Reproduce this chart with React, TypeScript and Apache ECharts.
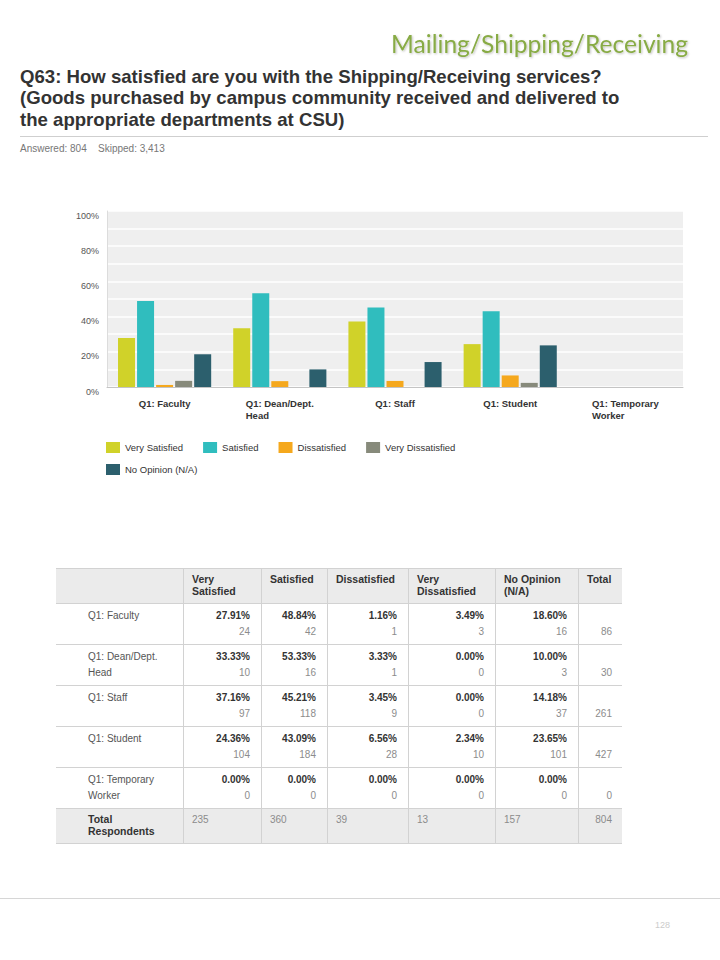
import React, { useEffect, useRef } from "react";
import * as echarts from "echarts";

// ---- data ----
const categories = ["Q1: Faculty", "Q1: Dean/Dept.\nHead", "Q1: Staff", "Q1: Student", "Q1: Temporary\nWorker"];
const seriesNames = ["Very Satisfied", "Satisfied", "Dissatisfied", "Very Dissatisfied", "No Opinion (N/A)"];
const verySatisfied = [27.91, 33.33, 37.16, 24.36, 0];
const satisfied = [48.84, 53.33, 45.21, 43.09, 0];
const dissatisfied = [1.16, 3.33, 3.45, 6.56, 0];
const veryDissatisfied = [3.49, 0, 0, 2.34, 0];
const noOpinion = [18.6, 10.0, 14.18, 23.65, 0];

const verySatisfiedCounts = [24, 10, 97, 104, 0];
const satisfiedCounts = [42, 16, 118, 184, 0];
const dissatisfiedCounts = [1, 1, 9, 28, 0];
const veryDissatisfiedCounts = [3, 0, 0, 10, 0];
const noOpinionCounts = [16, 3, 37, 101, 0];
const rowTotals = [86, 30, 261, 427, 0];
const columnTotals = [235, 360, 39, 13, 157, 804];

const tableHeaders = ["Very\nSatisfied", "Satisfied", "Dissatisfied", "Very\nDissatisfied", "No Opinion\n(N/A)", "Total"];
const yTickValues = [0, 20, 40, 60, 80, 100];

const colors = ["#d0d229", "#30bdbe", "#f5a81d", "#878a7b", "#2c5f6d"];

const FONT = "'Liberation Sans', Arial, sans-serif";

function buildTable(): any[] {
  const els: any[] = [];
  const cols = [56, 183, 261, 327, 408, 495, 578, 622];
  const tableTop = 568;
  const headerH = 35;
  const rowH = 41;
  const totalTop = tableTop + headerH + rowH * categories.length;
  const totalH = 35;
  const bottom = totalTop + totalH;
  const left = cols[0];
  const right = cols[cols.length - 1];
  els.push({ type: "rect", shape: { x: left, y: tableTop, width: right - left, height: headerH }, style: { fill: "#ebebeb" }, silent: true });
  els.push({ type: "rect", shape: { x: left, y: totalTop, width: right - left, height: totalH }, style: { fill: "#ebebeb" }, silent: true });
  const hLines = [tableTop, tableTop + headerH];
  for (let i = 1; i <= categories.length; i++) hLines.push(tableTop + headerH + rowH * i);
  hLines.push(bottom);
  hLines.forEach((y) =>
    els.push({ type: "line", shape: { x1: left, y1: y + 0.5, x2: right, y2: y + 0.5 }, style: { stroke: "#d2d2d2", lineWidth: 1 }, silent: true })
  );
  for (let j = 1; j < cols.length - 1; j++) {
    els.push({ type: "line", shape: { x1: cols[j] + 0.5, y1: tableTop, x2: cols[j] + 0.5, y2: bottom }, style: { stroke: "#d2d2d2", lineWidth: 1 }, silent: true });
  }
  const txt = (text: string, x: number, y: number, opts: any) => ({
    type: "text",
    silent: true,
    style: Object.assign({ text, x, y, fontFamily: FONT, fontSize: 10, fill: "#333", align: "left", verticalAlign: "middle" }, opts),
  });
  tableHeaders.forEach((h, j) => {
    els.push(txt(h, cols[j + 1] + 9, tableTop + 5, { fontWeight: "bold", verticalAlign: "top", lineHeight: 12, fontSize: 10.5 }));
  });
  const pcts = [verySatisfied, satisfied, dissatisfied, veryDissatisfied, noOpinion];
  const counts = [verySatisfiedCounts, satisfiedCounts, dissatisfiedCounts, veryDissatisfiedCounts, noOpinionCounts];
  categories.forEach((c, i) => {
    const top = tableTop + headerH + rowH * i;
    els.push(txt(c, 88, top + 4, { verticalAlign: "top", lineHeight: 16, fill: "#555" }));
    pcts.forEach((arr, j) => {
      const xr = cols[j + 2] - 11;
      els.push(txt(arr[i].toFixed(2) + "%", xr, top + 12, { align: "right", fontWeight: "bold" }));
      els.push(txt(String(counts[j][i]), xr, top + 28, { align: "right", fill: "#8c8c8c" }));
    });
    els.push(txt(String(rowTotals[i]), right - 10, top + 28, { align: "right", fill: "#8c8c8c" }));
  });
  els.push(txt("Total\nRespondents", 88, totalTop + 5, { verticalAlign: "top", lineHeight: 12, fontWeight: "bold", fontSize: 10.5 }));
  columnTotals.forEach((v, j) => {
    if (j < columnTotals.length - 1) {
      els.push(txt(String(v), cols[j + 1] + 9, totalTop + 11, { fill: "#8c8c8c" }));
    } else {
      els.push(txt(String(v), right - 10, totalTop + 11, { align: "right", fill: "#8c8c8c" }));
    }
  });
  return els;
}

export default function App() {
  const ref = useRef<HTMLDivElement>(null);
  useEffect(() => {
    if (!ref.current) return;
    const chart = echarts.init(ref.current, null, { renderer: "svg" });
    const seriesData = [verySatisfied, satisfied, dissatisfied, veryDissatisfied, noOpinion];
    const legendBase = {
      left: 106,
      padding: 0,
      icon: "rect",
      itemWidth: 14,
      itemHeight: 11,
      itemGap: 20,
      selectedMode: false,
      textStyle: { fontSize: 9.5, color: "#333", fontFamily: FONT },
    };
    const option: any = {
      animation: false,
      backgroundColor: "#ffffff",
      textStyle: { fontFamily: FONT },
      grid: { left: 107, top: 211, width: 576, height: 176, show: true, backgroundColor: "#efefef", borderWidth: 0 },
      legend: [
        Object.assign({ data: seriesNames.slice(0, 4), top: 442 }, legendBase),
        Object.assign({ data: seriesNames.slice(4), top: 464 }, legendBase),
      ],
      xAxis: {
        type: "category",
        data: categories,
        axisLine: { show: true, lineStyle: { color: "#c4c4c4", width: 1 } },
        axisTick: { show: false },
        axisLabel: {
          interval: 0,
          margin: 10,
          formatter: (v: string) => v.split("\n").map((s) => `{a|${s}}`).join("\n"),
          rich: { a: { align: "left", fontWeight: "bold", fontSize: 9.5, color: "#333", lineHeight: 12, fontFamily: FONT } },
        },
      },
      yAxis: {
        type: "value",
        min: 0,
        max: 100,
        interval: 10,
        axisLine: { show: true, lineStyle: { color: "#dcdcdc" } },
        axisTick: { show: false },
        splitLine: { show: true, lineStyle: { color: "#ffffff", width: 1.5 } },
        axisLabel: {
          margin: 8,
          color: "#555",
          fontSize: 9,
          verticalAlign: "top",
          formatter: (v: number) => (yTickValues.indexOf(v) >= 0 ? v + "%" : ""),
        },
      },
      series: seriesNames.map((name, k) => ({
        name,
        type: "bar",
        data: seriesData[k],
        barWidth: 17,
        barGap: "12%",
        itemStyle: { color: colors[k] },
      })),
      graphic: [
        {
          type: "text",
          silent: true,
          style: {
            text: "Mailing/Shipping/Receiving",
            x: 688,
            y: 43,
            align: "right",
            verticalAlign: "middle",
            fontFamily: "Lato, 'Open Sans', sans-serif",
            fontSize: 24.6,
            fill: "#88ab45",
            textShadowColor: "rgba(0,0,0,0.25)",
            textShadowBlur: 2,
            textShadowOffsetX: 1,
            textShadowOffsetY: 1,
          },
        },
        ...[
          "Q63: How satisfied are you with the Shipping/Receiving services?",
          "(Goods purchased by campus community received and delivered to",
          "the appropriate departments at CSU)",
        ].map((t, i) => ({
          type: "text",
          silent: true,
          style: { text: t, x: 20, y: 76 + i * 21.5, verticalAlign: "middle", fontFamily: FONT, fontWeight: "bold", fontSize: 18.6, fill: "#333" },
        })),
        { type: "line", silent: true, shape: { x1: 20, y1: 136.5, x2: 708, y2: 136.5 }, style: { stroke: "#cfcfcf", lineWidth: 1 } },
        { type: "text", silent: true, style: { text: "Answered: 804", x: 20, y: 148, verticalAlign: "middle", fontFamily: FONT, fontSize: 10, fill: "#777" } },
        { type: "text", silent: true, style: { text: "Skipped: 3,413", x: 98, y: 148, verticalAlign: "middle", fontFamily: FONT, fontSize: 10, fill: "#777" } },
        ...buildTable(),
        { type: "line", silent: true, shape: { x1: 0, y1: 898.5, x2: 720, y2: 898.5 }, style: { stroke: "#d6d6d6", lineWidth: 1 } },
        { type: "text", silent: true, style: { text: "128", x: 670, y: 925, align: "right", verticalAlign: "middle", fontFamily: FONT, fontSize: 9, fill: "#cccccc" } },
      ],
    };
    chart.setOption(option);
    return () => chart.dispose();
  }, []);
  return <div ref={ref} style={{ position: "absolute", left: 0, top: 0, width: 720, height: 960 }} />;
}
